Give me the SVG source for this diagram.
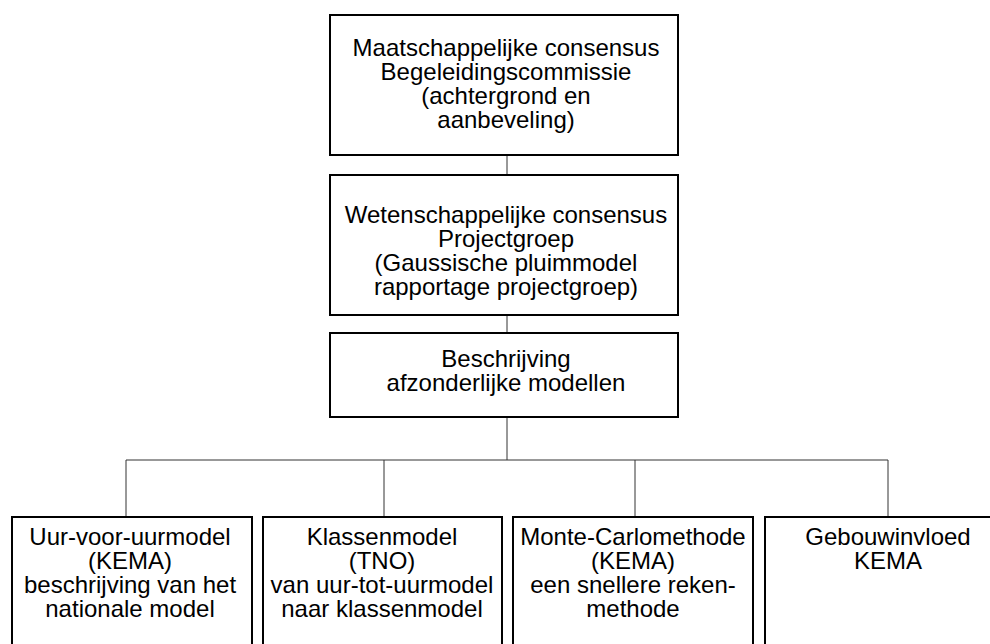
<svg xmlns="http://www.w3.org/2000/svg" width="990" height="644" viewBox="0 0 990 644">
<style>
.box{fill:#fff;stroke:#000;stroke-width:2}
.con{fill:none;stroke:#333;stroke-width:1}
text{font-family:"Liberation Sans",Arial,sans-serif;font-size:24px;fill:#000;text-anchor:middle}
</style>
<rect width="990" height="644" fill="#fff"/>
<g id="connectors">
<line class="con" x1="507" y1="155" x2="507" y2="175"/>
<line class="con" x1="507" y1="315" x2="507" y2="333"/>
<line class="con" x1="507" y1="417" x2="507" y2="460"/>
<line class="con" x1="126" y1="460" x2="888" y2="460"/>
<line class="con" x1="126" y1="460" x2="126" y2="517"/>
<line class="con" x1="384" y1="460" x2="384" y2="517"/>
<line class="con" x1="635" y1="460" x2="635" y2="517"/>
<line class="con" x1="888" y1="460" x2="888" y2="517"/>
</g>
<g id="n1">
<rect class="box" x="330" y="15" width="348" height="140"/>
<text x="506" y="56">Maatschappelijke consensus</text>
<text x="506" y="80">Begeleidingscommissie</text>
<text x="506" y="104">(achtergrond en</text>
<text x="506" y="128">aanbeveling)</text>
</g>
<g id="n2">
<rect class="box" x="330" y="175" width="348" height="140"/>
<text x="506" y="223">Wetenschappelijke consensus</text>
<text x="506" y="247">Projectgroep</text>
<text x="506" y="271">(Gaussische pluimmodel</text>
<text x="506" y="295">rapportage projectgroep)</text>
</g>
<g id="n3">
<rect class="box" x="330" y="333" width="348" height="84"/>
<text x="506" y="367">Beschrijving</text>
<text x="506" y="391">afzonderlijke modellen</text>
</g>
<g id="n4">
<rect class="box" x="12" y="517" width="240" height="140"/>
<text x="130" y="545">Uur-voor-uurmodel</text>
<text x="130" y="569">(KEMA)</text>
<text x="130" y="593">beschrijving van het</text>
<text x="130" y="617">nationale model</text>
</g>
<g id="n5">
<rect class="box" x="263" y="517" width="239" height="140"/>
<text x="382" y="545">Klassenmodel</text>
<text x="382" y="569">(TNO)</text>
<text x="382" y="593">van uur-tot-uurmodel</text>
<text x="382" y="617">naar klassenmodel</text>
</g>
<g id="n6">
<rect class="box" x="513" y="517" width="240" height="140"/>
<text x="633" y="545">Monte-Carlomethode</text>
<text x="633" y="569">(KEMA)</text>
<text x="633" y="593">een snellere reken-</text>
<text x="633" y="617">methode</text>
</g>
<g id="n7">
<rect class="box" x="765" y="517" width="246" height="140"/>
<text x="888" y="545">Gebouwinvloed</text>
<text x="888" y="569">KEMA</text>
</g>
</svg>
